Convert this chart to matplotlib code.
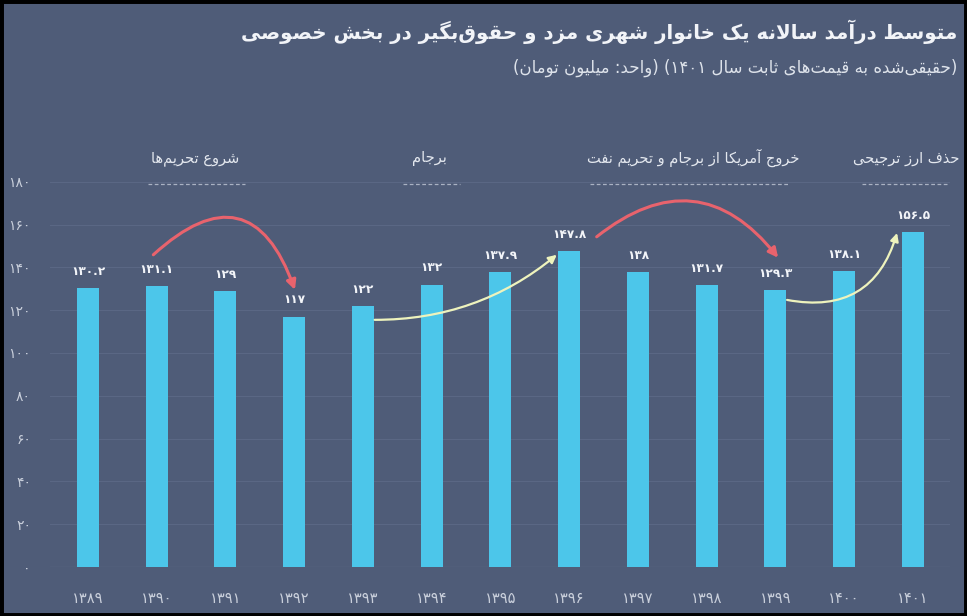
import re
import matplotlib
matplotlib.use("Agg")
import matplotlib.pyplot as plt
from matplotlib.patches import Rectangle

# ---------------- data ----------------
years = [1389, 1390, 1391, 1392, 1393, 1394, 1395, 1396, 1397, 1398, 1399, 1400, 1401]
values = [130.2, 131.1, 129, 117, 122, 132, 137.9, 147.8, 138, 131.7, 129.3, 138.1, 156.5]
y_ticks = [0, 20, 40, 60, 80, 100, 120, 140, 160, 180]

title = "متوسط درآمد سالانه یک خانوار شهری مزد و حقوق\u200cبگیر در بخش خصوصی"
subtitle = "(حقیقی\u200cشده به قیمت\u200cهای ثابت سال ۱۴۰۱) (واحد: میلیون تومان)"
events = ["شروع تحریم\u200cها", "برجام", "خروج آمریکا از برجام و تحریم نفت", "حذف ارز ترجیحی"]

# ---------------- Persian shaping helpers (matplotlib has no RTL layout) ----------------
FORMS = {
    '\u0622': ('\uFE81', '\uFE82', None, None),
    '\u0627': ('\uFE8D', '\uFE8E', None, None),
    '\u0628': ('\uFE8F', '\uFE90', '\uFE91', '\uFE92'),
    '\u067E': ('\uFB56', '\uFB57', '\uFB58', '\uFB59'),
    '\u062A': ('\uFE95', '\uFE96', '\uFE97', '\uFE98'),
    '\u062B': ('\uFE99', '\uFE9A', '\uFE9B', '\uFE9C'),
    '\u062C': ('\uFE9D', '\uFE9E', '\uFE9F', '\uFEA0'),
    '\u0686': ('\uFB7A', '\uFB7B', '\uFB7C', '\uFB7D'),
    '\u062D': ('\uFEA1', '\uFEA2', '\uFEA3', '\uFEA4'),
    '\u062E': ('\uFEA5', '\uFEA6', '\uFEA7', '\uFEA8'),
    '\u062F': ('\uFEA9', '\uFEAA', None, None),
    '\u0630': ('\uFEAB', '\uFEAC', None, None),
    '\u0631': ('\uFEAD', '\uFEAE', None, None),
    '\u0632': ('\uFEAF', '\uFEB0', None, None),
    '\u0698': ('\uFB8A', '\uFB8B', None, None),
    '\u0633': ('\uFEB1', '\uFEB2', '\uFEB3', '\uFEB4'),
    '\u0634': ('\uFEB5', '\uFEB6', '\uFEB7', '\uFEB8'),
    '\u0635': ('\uFEB9', '\uFEBA', '\uFEBB', '\uFEBC'),
    '\u0636': ('\uFEBD', '\uFEBE', '\uFEBF', '\uFEC0'),
    '\u0637': ('\uFEC1', '\uFEC2', '\uFEC3', '\uFEC4'),
    '\u0638': ('\uFEC5', '\uFEC6', '\uFEC7', '\uFEC8'),
    '\u0639': ('\uFEC9', '\uFECA', '\uFECB', '\uFECC'),
    '\u063A': ('\uFECD', '\uFECE', '\uFECF', '\uFED0'),
    '\u0641': ('\uFED1', '\uFED2', '\uFED3', '\uFED4'),
    '\u0642': ('\uFED5', '\uFED6', '\uFED7', '\uFED8'),
    '\u06A9': ('\uFB8E', '\uFB8F', '\uFB90', '\uFB91'),
    '\u06AF': ('\uFB92', '\uFB93', '\uFB94', '\uFB95'),
    '\u0644': ('\uFEDD', '\uFEDE', '\uFEDF', '\uFEE0'),
    '\u0645': ('\uFEE1', '\uFEE2', '\uFEE3', '\uFEE4'),
    '\u0646': ('\uFEE5', '\uFEE6', '\uFEE7', '\uFEE8'),
    '\u0648': ('\uFEED', '\uFEEE', None, None),
    '\u0647': ('\uFEE9', '\uFEEA', '\uFEEB', '\uFEEC'),
    '\u06CC': ('\uFBFC', '\uFBFD', '\uFBFE', '\uFBFF'),
}
LAM_ALEF = {'\u0627': ('\uFEFB', '\uFEFC'), '\u0622': ('\uFEF5', '\uFEF6')}


def dual(c):
    return c in FORMS and FORMS[c][2] is not None


def shape(seg):
    out = []
    i = 0
    n = len(seg)
    while i < n:
        c = seg[i]
        prev_join = i > 0 and dual(seg[i - 1]) and c in FORMS
        if c == '\u0644' and i + 1 < n and seg[i + 1] in LAM_ALEF:
            out.append(LAM_ALEF[seg[i + 1]][1 if prev_join else 0])
            i += 2
            continue
        if c not in FORMS:
            out.append(c)
            i += 1
            continue
        next_join = dual(c) and i + 1 < n and seg[i + 1] in FORMS
        iso, fin, ini, med = FORMS[c]
        if prev_join and next_join:
            out.append(med)
        elif prev_join:
            out.append(fin)
        elif next_join:
            out.append(ini)
        else:
            out.append(iso)
        i += 1
    return ''.join(out)


def visual(text):
    """Shape Persian text and put it into right-to-left visual order."""
    if not any(ch in FORMS for ch in text):
        return text
    s = shape(text).replace('\u200c', '')[::-1]
    s = re.sub(r'[۰-۹0-9]+(?:\.[۰-۹0-9]+)?', lambda m: m.group(0)[::-1], s)
    return s.translate(str.maketrans('()', ')('))


def fa(num):
    s = ('%g' % num)
    return s.translate(str.maketrans('0123456789', '۰۱۲۳۴۵۶۷۸۹'))


# ---------------- style ----------------
BG = '#4f5c78'
BAR = '#4cc6ea'
TXT = '#f2f4f8'
TICK = '#c9cfdb'
GRID = '#5a6784'
RED = '#e8636d'
YEL = '#eef3bd'

plt.rcParams['font.family'] = ['DejaVu Sans']

fig = plt.figure(figsize=(9.67, 6.16), dpi=100)
fig.patch.set_facecolor(BG)
ax = fig.add_axes([50 / 967, 1 - 567 / 616, 900 / 967, 428 / 616])
ax.set_facecolor(BG)

x = list(range(len(years)))
ax.bar(x, values, width=0.32, color=BAR, zorder=3)

ax.set_xlim(-0.553, 12.54)
ax.set_ylim(0, 200)
ax.set_yticks(y_ticks)
ax.set_yticklabels([fa(v) for v in y_ticks])
ax.set_xticks(x)
ax.set_xticklabels([fa(y) for y in years])
for s in ax.spines.values():
    s.set_visible(False)
ax.tick_params(axis='both', length=0, colors=TICK)
ax.tick_params(axis='y', pad=13.7, labelsize=10)
ax.tick_params(axis='x', pad=17, labelsize=10.5)
for t in y_ticks:
    ax.axhline(t, color=GRID if t else '#7b87a0', lw=0.8, zorder=1)

for xi, v in zip(x, values):
    ax.annotate(fa(v), (xi, v), xytext=(0, 12), textcoords='offset points',
                ha='center', va='center', color=TXT, fontsize=8.7, fontweight='bold', zorder=4)

# event labels with dashed lines
ev_pos = [(1.556, 0.873, 2.284), (4.97, 4.58, 5.41), (8.81, 7.30, 10.21), (11.91, 11.26, 12.57)]
for label, (cx, x0, x1) in zip(events, ev_pos):
    ax.text(cx, 191, visual(label), ha='center', va='center', color='#e3e7ee', fontsize=10.5)
    ax.plot([x0, x1], [179, 179], color='#aab2c3', lw=0.9, ls=(0, (3, 2)), zorder=2)


# arrows
def arrow(i0, dy0, dx0, i1, dy1, dx1, color, rad, lw, ms):
    ax.annotate('', xy=(i1 + dx1, values[i1] + dy1), xytext=(i0 + dx0, values[i0] + dy0),
                arrowprops=dict(arrowstyle='-|>', color=color, lw=lw, mutation_scale=ms,
                                shrinkA=0, shrinkB=0, connectionstyle='arc3,rad=%g' % rad),
                zorder=5)


arrow(1, 14.8, -0.05, 3, 12.5, 0.01, RED, -0.75, 2.2, 14)
arrow(7, 6.5, 0.40, 10, 15.2, 0.04, RED, -0.5, 2.2, 14)
arrow(4, -6.5, 0.17, 7, -1.9, -0.18, YEL, 0.18, 1.6, 12)
arrow(10, -4.5, 0.17, 12, -0.4, -0.23, YEL, 0.45, 1.6, 12)

# title & subtitle
fig.text(957 / 967, 1 - 32 / 616, visual(title), ha='right', va='center', color=TXT,
         fontsize=14.2, fontweight='bold')
fig.text(957 / 967, 1 - 68 / 616, visual(subtitle), ha='right', va='center', color='#dde2ea',
         fontsize=12)

# black frame
fig.patches.append(Rectangle((0, 0), 1, 1, transform=fig.transFigure, fill=False,
                             edgecolor='black', lw=5, zorder=10))

fig.savefig('out.png', dpi=100, facecolor=fig.get_facecolor())
